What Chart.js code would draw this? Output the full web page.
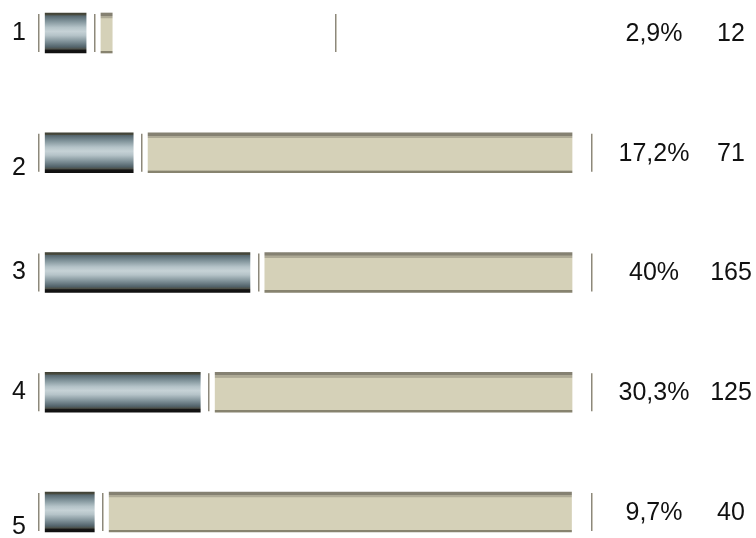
<!DOCTYPE html>
<html>
<head>
<meta charset="utf-8">
<script src="https://cdn.jsdelivr.net/npm/chart.js@4"></script>
<style>
  html, body { margin: 0; background: #fff; }
  #wrap { width: 756px; height: 538px; }
</style>
</head>
<body>
<div id="wrap"><canvas id="chart"></canvas></div>
<script>
const categories = ['1', '2', '3', '4', '5'];
const percentLabels = ['2,9%', '17,2%', '40%', '30,3%', '9,7%'];
const counts = [12, 71, 165, 125, 40];
// bar lengths as drawn in the picture
const grayLengths = [8, 17.2, 40, 30.3, 9.6];
const beigeLengths = [2.2, 82.8, 60, 69.7, 90.3];
const rowEnds = [58, 108, 108, 108, 108];

const PAD = 1.2;
const GAP = 2.9;
const BAR_H = 40;
const FONT = '25px "Liberation Sans", Arial, sans-serif';
const droppedLabels = [1, 4];

const grayStops = [
    [0, '#3f4034'], [0.05, '#4a4c40'], [0.07, '#56676f'], [0.2, '#7f9299'],
    [0.36, '#b4c3c8'], [0.46, '#c6d2d6'], [0.56, '#b5c3c8'], [0.72, '#7d8f96'],
    [0.85, '#52636b'], [0.9, '#4d5048'], [0.93, '#151515'], [1, '#101010']
];
const beigeStops = [
    [0, '#858172'], [0.07, '#858172'], [0.08, '#aeaa96'], [0.13, '#aeaa96'],
    [0.14, '#d5d1b8'], [0.94, '#d5d1b8'], [0.95, '#87836f'], [1, '#87836f']
];

function barFill(stops) {
    return function (c) {
        const chart = c.chart;
        if (!chart.chartArea) return stops[5][1];
        const y = chart.scales.y.getPixelForValue(c.dataIndex);
        const g = chart.ctx.createLinearGradient(0, y - BAR_H / 2, 0, y + BAR_H / 2);
        stops.forEach(s => g.addColorStop(s[0], s[1]));
        return g;
    };
}

function separator(ctx, x, y) {
    ctx.fillStyle = '#8c887c';
    ctx.fillRect(Math.round(x) - 1, y - 19, 1, 38);
    ctx.fillStyle = '#c8c4b8';
    ctx.fillRect(Math.round(x), y - 19, 1, 38);
}

const rowMarks = {
    id: 'rowMarks',
    afterDatasetsDraw(chart) {
        const { ctx, chartArea, scales } = chart;
        const beigeMeta = chart.getDatasetMeta(3);
        ctx.save();
        categories.forEach((cat, i) => {
            const y = scales.y.getPixelForValue(i);
            separator(ctx, chartArea.left, y);
            separator(ctx, beigeMeta.data[i].base - 6, y);
            separator(ctx, scales.x.getPixelForValue(rowEnds[i]), y);
            ctx.fillStyle = '#111';
            ctx.font = FONT;
            ctx.textAlign = 'center';
            ctx.textBaseline = 'middle';
            ctx.fillText(percentLabels[i], chartArea.right + 62, y + 1);
            ctx.fillText(String(counts[i]), chartArea.right + 139, y + 1);
        });
        ctx.restore();
    }
};

const chart = new Chart(document.getElementById('chart'), {
    type: 'bar',
    data: {
        labels: categories,
        datasets: [
            { data: categories.map(() => PAD), backgroundColor: 'rgba(0,0,0,0)' },
            { data: grayLengths, backgroundColor: barFill(grayStops) },
            { data: categories.map(() => GAP), backgroundColor: 'rgba(0,0,0,0)' },
            { data: beigeLengths, backgroundColor: barFill(beigeStops) }
        ]
    },
    options: {
        indexAxis: 'y',
        responsive: true,
        maintainAspectRatio: false,
        animation: false,
        datasets: { bar: { barThickness: BAR_H, clip: false, borderWidth: 0 } },
        layout: { padding: { top: 33, bottom: 26, left: 0, right: 164 } },
        plugins: { legend: { display: false }, tooltip: { enabled: false } },
        scales: {
            x: { stacked: true, min: 0, max: 108, display: false },
            y: {
                stacked: true,
                offset: false,
                grid: { display: false, drawTicks: false },
                border: { display: false },
                ticks: {
                    color: '#111',
                    padding: 13,
                    font: { family: '"Liberation Sans", Arial, sans-serif', size: 25, lineHeight: '31px' },
                    callback: (v, i) => droppedLabels.includes(i) ? ['', categories[i]] : categories[i]
                },
                afterFit: s => { s.width = 39; s.paddingTop = 0; s.paddingBottom = 0; }
            }
        }
    },
    plugins: [rowMarks]
});
</script>
</body>
</html>
